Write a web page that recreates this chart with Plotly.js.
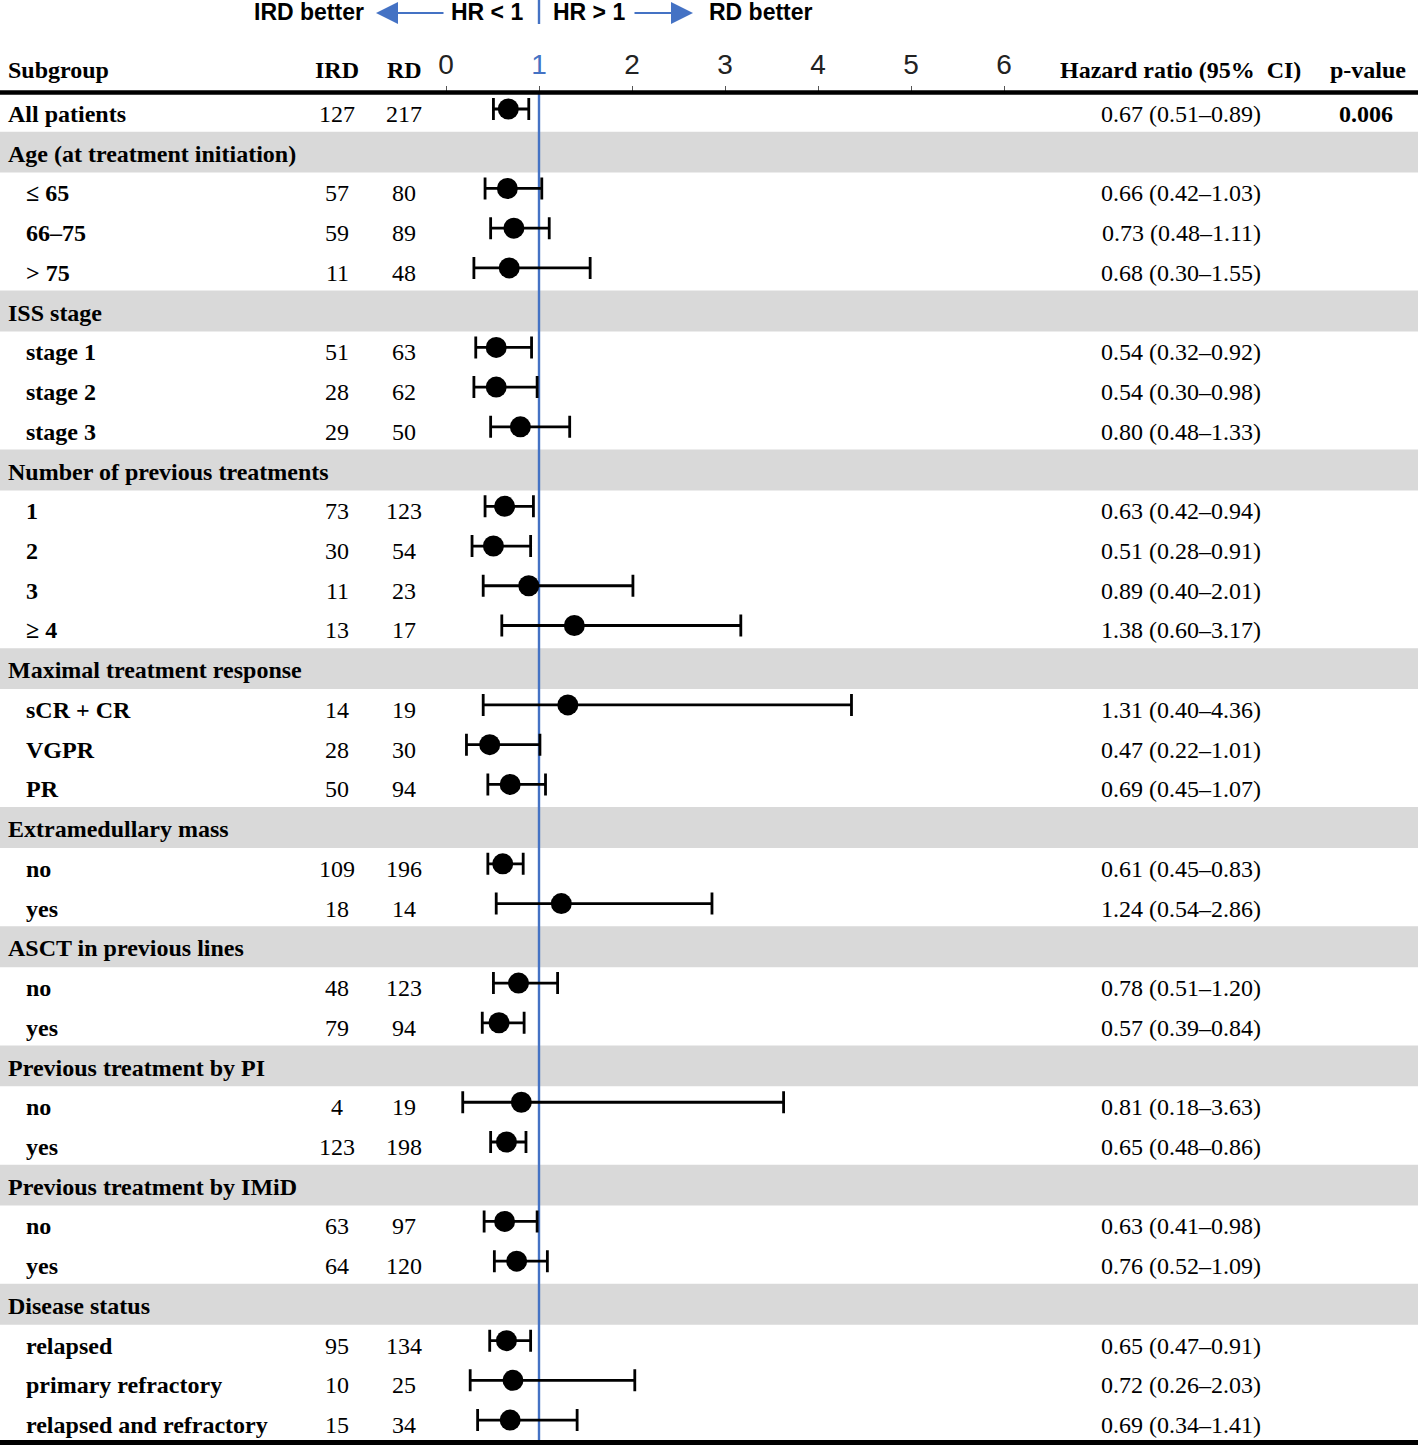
<!DOCTYPE html>
<html>
<head>
<meta charset="utf-8">
<script src="https://cdn.plot.ly/plotly-3.0.1.min.js"></script>
<style>
  html, body { margin: 0; padding: 0; background: #ffffff; }
  #chart { width: 1418px; height: 1445px; }
</style>
</head>
<body>
<div id="chart"></div>
<script>
// ---------------- data ----------------
const subgroups = ['All patients','Age (at treatment initiation)','≤ 65','66–75','> 75',
  'ISS stage','stage 1','stage 2','stage 3',
  'Number of previous treatments','1','2','3','≥ 4',
  'Maximal treatment response','sCR + CR','VGPR','PR',
  'Extramedullary mass','no','yes',
  'ASCT in previous lines','no','yes',
  'Previous treatment by PI','no','yes',
  'Previous treatment by IMiD','no','yes',
  'Disease status','relapsed','primary refractory','relapsed and refractory'];
const isHeader = [0,1,0,0,0, 1,0,0,0, 1,0,0,0,0, 1,0,0,0, 1,0,0, 1,0,0, 1,0,0, 1,0,0, 1,0,0,0];
const nIRD = [127,null,57,59,11, null,51,28,29, null,73,30,11,13, null,14,28,50, null,109,18, null,48,79, null,4,123, null,63,64, null,95,10,15];
const nRD  = [217,null,80,89,48, null,63,62,50, null,123,54,23,17, null,19,30,94, null,196,14, null,123,94, null,19,198, null,97,120, null,134,25,34];
const hr   = [0.67,null,0.66,0.73,0.68, null,0.54,0.54,0.80, null,0.63,0.51,0.89,1.38, null,1.31,0.47,0.69, null,0.61,1.24, null,0.78,0.57, null,0.81,0.65, null,0.63,0.76, null,0.65,0.72,0.69];
const ciLo = [0.51,null,0.42,0.48,0.30, null,0.32,0.30,0.48, null,0.42,0.28,0.40,0.60, null,0.40,0.22,0.45, null,0.45,0.54, null,0.51,0.39, null,0.18,0.48, null,0.41,0.52, null,0.47,0.26,0.34];
const ciHi = [0.89,null,1.03,1.11,1.55, null,0.92,0.98,1.33, null,0.94,0.91,2.01,3.17, null,4.36,1.01,1.07, null,0.83,2.86, null,1.20,0.84, null,3.63,0.86, null,0.98,1.09, null,0.91,2.03,1.41];
const pValues = ['0.006'];            // only for "All patients"
const tickVals = [0,1,2,3,4,5,6];
const tickLabels = ['0','1','2','3','4','5','6'];
const refHR = 1;
const colHeaders = ['Subgroup','IRD','RD','Hazard ratio (95%  CI)','p-value'];

// ---------------- geometry helpers (layout only) ----------------
const W = 1418, H = 1445;
const X0PX = 446, XUNIT = 93;          // pixel of HR=0, px per HR unit
const Y0PX = 109, YROW = 39.73;        // pixel of row 0 centre, px per row
const px = p => p / W;                 // paper x from pixel
const py = p => 1 - p / H;             // paper y from pixel
const blue = '#4472c4';
const serif = '"Liberation Serif", "Times New Roman", serif';
const sans = '"Liberation Sans", Arial, sans-serif';

const rows = subgroups.map((_, i) => i);

// ---------------- traces ----------------
const dataIdx = rows.filter(i => hr[i] !== null);
const trace = {
  type: 'scatter', mode: 'markers',
  x: dataIdx.map(i => hr[i]),
  y: dataIdx.map(i => i),
  marker: { size: 21, color: '#000000', symbol: 'circle' },
  error_x: {
    type: 'data', symmetric: false,
    array: dataIdx.map(i => ciHi[i] - hr[i]),
    arrayminus: dataIdx.map(i => hr[i] - ciLo[i]),
    color: '#000000', thickness: 2.8, width: 11
  },
  hoverinfo: 'skip', showlegend: false, cliponaxis: false
};

// ---------------- shapes ----------------
const shapes = [];
rows.forEach(i => {
  if (isHeader[i]) {
    shapes.push({ type: 'rect', layer: 'below', xref: 'paper', yref: 'y',
      x0: 0, x1: 1, y0: i - 0.43, y1: i + 0.60,
      fillcolor: '#d9d9d9', line: { width: 0 } });
  }
});
// reference line HR = 1
shapes.push({ type: 'line', layer: 'below', xref: 'x', yref: 'paper',
  x0: refHR, x1: refHR, y0: 0, y1: py(92), line: { color: blue, width: 2.4 } });
// small separator in top header
shapes.push({ type: 'line', xref: 'x', yref: 'paper',
  x0: refHR, x1: refHR, y0: py(0), y1: py(24), line: { color: blue, width: 2.4 } });
// thick top rule
shapes.push({ type: 'line', xref: 'paper', yref: 'paper',
  x0: 0, x1: 1, y0: py(92.5), y1: py(92.5), line: { color: '#000000', width: 4.5 } });
// thick bottom rule
shapes.push({ type: 'rect', xref: 'paper', yref: 'paper',
  x0: 0, x1: 1, y0: 0, y1: py(1440), fillcolor: '#000000', line: { width: 0 } });

// ---------------- annotations ----------------
const ann = [];
const txt = (text, xpix, yrow, opts = {}) => Object.assign({
  text, x: px(xpix), xref: 'paper', y: yrow, yref: 'y', yshift: -5,
  xanchor: 'center', yanchor: 'middle', showarrow: false,
  font: { family: serif, size: 24, color: '#000000' }
}, opts);

rows.forEach(i => {
  const indent = (isHeader[i] || i === 0) ? 6 : 24;
  ann.push(txt('<b>' + subgroups[i] + '</b>', indent, i, { xanchor: 'left' }));
  if (nIRD[i] !== null) ann.push(txt(String(nIRD[i]), 337, i));
  if (nRD[i] !== null) ann.push(txt(String(nRD[i]), 404, i));
  if (hr[i] !== null) {
    ann.push(txt(hr[i].toFixed(2) + ' (' + ciLo[i].toFixed(2) + '–' + ciHi[i].toFixed(2) + ')', 1181, i));
  }
});
ann.push(txt('<b>' + pValues[0] + '</b>', 1366, 0));

// column headers
const hdrY = py(70);
const hdr = (text, xpix, xanchor) => ({
  text: '<b>' + text + '</b>', x: px(xpix), xref: 'paper', y: hdrY, yref: 'paper',
  xanchor, yanchor: 'middle', showarrow: false,
  font: { family: serif, size: 24, color: '#000000' }
});
ann.push(hdr(colHeaders[0], 6, 'left'));
ann.push(hdr(colHeaders[1], 337, 'center'));
ann.push(hdr(colHeaders[2], 404, 'center'));
ann.push(hdr(colHeaders[3], 1180, 'center'));
ann.push(hdr(colHeaders[4], 1368, 'center'));

// top direction header
const topY = py(12);
const topTxt = (text, xpix, xanchor) => ({
  text: '<b>' + text + '</b>', x: px(xpix), xref: 'paper', y: topY, yref: 'paper',
  xanchor, yanchor: 'middle', showarrow: false,
  font: { family: sans, size: 23, color: '#000000' }
});
ann.push(topTxt('IRD better', 366, 'right'));
ann.push(topTxt('HR &lt; 1', 525, 'right'));
ann.push(topTxt('HR &gt; 1', 551, 'left'));
ann.push(topTxt('RD better', 707, 'left'));
// arrows
ann.push({ text: '', x: px(376), xref: 'paper', y: py(13), yref: 'paper',
  ax: 69, ay: 0, showarrow: true, arrowhead: 2, arrowsize: 2.0, arrowwidth: 2.2,
  arrowcolor: blue, standoff: 0, startstandoff: 0 });
ann.push({ text: '', x: px(693), xref: 'paper', y: py(13), yref: 'paper',
  ax: -60, ay: 0, showarrow: true, arrowhead: 2, arrowsize: 2.0, arrowwidth: 2.2,
  arrowcolor: blue, standoff: 0, startstandoff: 0 });

// ---------------- layout ----------------
const layout = {
  width: W, height: H, autosize: false,
  margin: { l: 0, r: 0, t: 0, b: 0, pad: 0 },
  paper_bgcolor: '#ffffff', plot_bgcolor: 'rgba(0,0,0,0)',
  showlegend: false,
  xaxis: {
    range: [-X0PX / XUNIT, (W - X0PX) / XUNIT],
    autorange: false, fixedrange: true,
    anchor: 'free', position: py(92.5), side: 'top',
    showgrid: false, zeroline: false, showline: false,
    tickmode: 'array', tickvals: tickVals,
    ticktext: tickLabels.map((t, k) => tickVals[k] === refHR ? '<span style="color:' + blue + '">' + t + '</span>' : t),
    ticks: 'outside', ticklen: 7, tickwidth: 1, tickcolor: '#555555',
    tickfont: { family: sans, size: 28, color: '#222222' }
  },
  yaxis: {
    range: [(H - Y0PX) / YROW, -Y0PX / YROW],
    autorange: false, fixedrange: true, visible: false,
    showgrid: false, zeroline: false
  },
  shapes, annotations: ann
};

Plotly.newPlot('chart', [trace], layout, { staticPlot: true, displayModeBar: false });
</script>
</body>
</html>
